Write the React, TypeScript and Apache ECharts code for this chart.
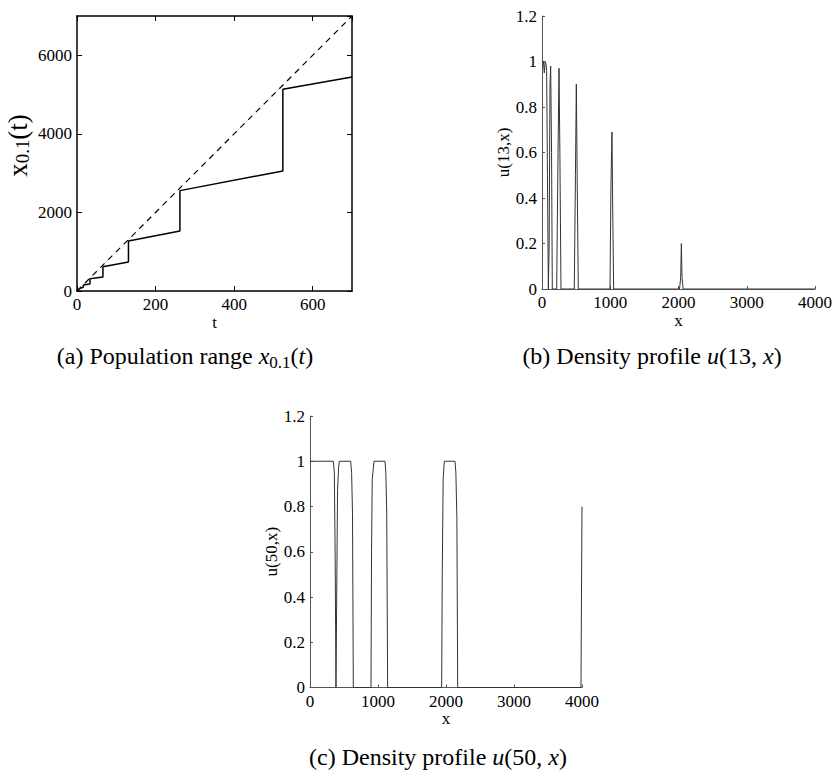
import React, { useEffect, useRef } from 'react';
import * as echarts from 'echarts';

// (a) population range x_{0.1}(t) and the linear reference line
const rangeT = [0, 8, 16, 16, 33, 33, 66, 66, 131, 131, 262, 262, 524, 524, 700];
const rangeX = [0, 70, 95, 155, 180, 310, 357, 620, 739, 1274, 1528, 2555, 3057, 5138, 5450];
const refT = [0, 700];
const refX = [0, 7000];

// (b) density profile u(13, x)
const prof13X = [0, 20, 34, 45, 59, 68, 80, 93, 105, 117, 127, 140, 151, 215, 235, 249, 262, 278, 473, 490, 503, 515, 532, 996, 1010, 1025, 1038, 1050, 2015, 2032, 2042, 2052, 2068, 4000];
const prof13U = [1, 1, 0.95, 1, 0.99, 0.96, 0.5, 0, 0.2, 0.9, 0.98, 0.6, 0, 0, 0.6, 0.97, 0.6, 0, 0, 0.5, 0.9, 0.5, 0, 0, 0.45, 0.69, 0.3, 0, 0, 0.05, 0.2, 0.05, 0, 0];

// (c) density profile u(50, x)
const prof50X = [0, 343, 358, 370, 382, 392, 405, 420, 431, 598, 612, 625, 637, 897, 905, 915, 941, 1103, 1115, 1128, 1142, 1936, 1945, 1958, 1975, 2132, 2145, 2160, 2172, 3985, 3995, 4000];
const prof50U = [1, 1, 0.95, 0.58, 0, 0, 0.87, 0.97, 1, 1, 0.95, 0.77, 0, 0, 0.6, 0.92, 1, 1, 0.95, 0.78, 0, 0, 0.5, 0.92, 1, 1, 0.95, 0.75, 0, 0, 0.55, 0.8];

const pairs = (xs: number[], ys: number[]) => xs.map((x, i) => [x, ys[i]]);

const FONT = "'Liberation Serif', 'Times New Roman', serif";
const plain = (v: number) => String(Math.round(v * 1000) / 1000);

export default function App() {
  const ref = useRef<HTMLDivElement>(null);
  useEffect(() => {
    const chart = echarts.init(ref.current!, null, { renderer: 'svg' });
    const lbl = { fontFamily: FONT, fontSize: 17, color: '#000' };
    const grayAxis = { onZero: false, lineStyle: { color: '#555', width: 1 } };
    const grayTick = { inside: true, length: 3, lineStyle: { color: '#555', width: 1 } };
    const blackAxis = { onZero: false, lineStyle: { color: '#000', width: 1.5 } };
    const blackTick = { inside: true, length: 5, lineStyle: { color: '#000', width: 1 } };
    const noSplit = { show: false };

    const capRich = {
      n: { fontFamily: FONT, fontSize: 24, color: '#000', lineHeight: 30, verticalAlign: 'middle' },
      i: { fontFamily: FONT, fontSize: 24, fontStyle: 'italic', color: '#000', lineHeight: 30, verticalAlign: 'middle' },
      s: { fontFamily: FONT, fontSize: 17, color: '#000', lineHeight: 18, verticalAlign: 'bottom' },
    };

    const option: any = {
      animation: false,
      backgroundColor: '#fff',
      textStyle: { fontFamily: FONT },
      grid: [
        { left: 77, top: 16, width: 275, height: 275 },
        { left: 542, top: 16, width: 273, height: 273 },
        { left: 310, top: 416, width: 272, height: 271.5 },
      ],
      xAxis: [
        {
          gridIndex: 0, type: 'value', min: 0, max: 700, interval: 200, position: 'bottom',
          axisLine: blackAxis, axisTick: blackTick, splitLine: noSplit,
          axisLabel: { ...lbl, margin: 5, showMaxLabel: false, formatter: plain },
          name: 't', nameLocation: 'middle', nameGap: 22, nameTextStyle: lbl,
        },
        {
          gridIndex: 0, type: 'value', min: 0, max: 700, interval: 200, position: 'top',
          axisLine: blackAxis, axisTick: blackTick, splitLine: noSplit, axisLabel: { show: false },
        },
        {
          gridIndex: 1, type: 'value', min: 0, max: 4000, interval: 1000, position: 'bottom',
          axisLine: grayAxis, axisTick: grayTick, splitLine: noSplit,
          axisLabel: { ...lbl, margin: 5, formatter: plain },
          name: 'x', nameLocation: 'middle', nameGap: 22, nameTextStyle: lbl,
        },
        {
          gridIndex: 2, type: 'value', min: 0, max: 4000, interval: 1000, position: 'bottom',
          axisLine: grayAxis, axisTick: grayTick, splitLine: noSplit,
          axisLabel: { ...lbl, margin: 5, formatter: plain },
          name: 'x', nameLocation: 'middle', nameGap: 22, nameTextStyle: lbl,
        },
      ],
      yAxis: [
        {
          gridIndex: 0, type: 'value', min: 0, max: 7000, interval: 2000, position: 'left',
          axisLine: blackAxis, axisTick: blackTick, splitLine: noSplit,
          axisLabel: { ...lbl, margin: 5, showMaxLabel: false, formatter: plain },
          name: '{i|x}{s|0.1}{i|(t)}', nameLocation: 'middle', nameRotate: 90, nameGap: 45,
          nameTextStyle: {
            fontFamily: FONT, fontSize: 27, color: '#000', padding: [0, 0, 0, 16],
            rich: {
              i: { fontFamily: FONT, fontSize: 27, color: '#000', lineHeight: 29, verticalAlign: 'middle' },
              s: { fontFamily: FONT, fontSize: 19, color: '#000', lineHeight: 19, verticalAlign: 'bottom' },
            },
          },
        },
        {
          gridIndex: 0, type: 'value', min: 0, max: 7000, interval: 2000, position: 'right',
          axisLine: blackAxis, axisTick: blackTick, splitLine: noSplit, axisLabel: { show: false },
        },
        {
          gridIndex: 1, type: 'value', min: 0, max: 1.2, interval: 0.2, position: 'left',
          axisLine: grayAxis, axisTick: grayTick, splitLine: noSplit,
          axisLabel: { ...lbl, margin: 5, formatter: plain },
          name: 'u(13,x)', nameLocation: 'middle', nameRotate: 90, nameGap: 30, nameTextStyle: lbl,
        },
        {
          gridIndex: 2, type: 'value', min: 0, max: 1.2, interval: 0.2, position: 'left',
          axisLine: grayAxis, axisTick: grayTick, splitLine: noSplit,
          axisLabel: { ...lbl, margin: 5, formatter: plain },
          name: 'u(50,x)', nameLocation: 'middle', nameRotate: 90, nameGap: 30, nameTextStyle: lbl,
        },
      ],
      series: [
        {
          type: 'line', xAxisIndex: 0, yAxisIndex: 0, symbol: 'none',
          data: pairs(rangeT, rangeX), lineStyle: { color: '#000', width: 1.5 },
        },
        {
          type: 'line', xAxisIndex: 0, yAxisIndex: 0, symbol: 'none',
          data: pairs(refT, refX), lineStyle: { color: '#000', width: 1.2, type: [6, 5] },
        },
        {
          type: 'line', xAxisIndex: 2, yAxisIndex: 2, symbol: 'none',
          data: pairs(prof13X, prof13U), lineStyle: { color: '#333', width: 1 },
        },
        {
          type: 'line', xAxisIndex: 3, yAxisIndex: 3, symbol: 'none',
          data: pairs(prof50X, prof50U), lineStyle: { color: '#333', width: 1 },
        },
      ],
      graphic: [
        {
          type: 'text', x: 185, y: 356,
          style: { text: '{n|(a) Population range }{i|x}{s|0.1}{n|(}{i|t}{n|)}', rich: capRich, align: 'center', verticalAlign: 'middle' },
        },
        {
          type: 'text', x: 652, y: 356,
          style: { text: '{n|(b) Density profile }{i|u}{n|(13, }{i|x}{n|)}', rich: capRich, align: 'center', verticalAlign: 'middle' },
        },
        {
          type: 'text', x: 438, y: 757,
          style: { text: '{n|(c) Density profile }{i|u}{n|(50, }{i|x}{n|)}', rich: capRich, align: 'center', verticalAlign: 'middle' },
        },
      ],
    };
    chart.setOption(option);
    return () => chart.dispose();
  }, []);
  return (
    <div
      ref={ref}
      style={{ position: 'fixed', left: 0, top: 0, width: 836, height: 776, background: '#fff' }}
    />
  );
}
